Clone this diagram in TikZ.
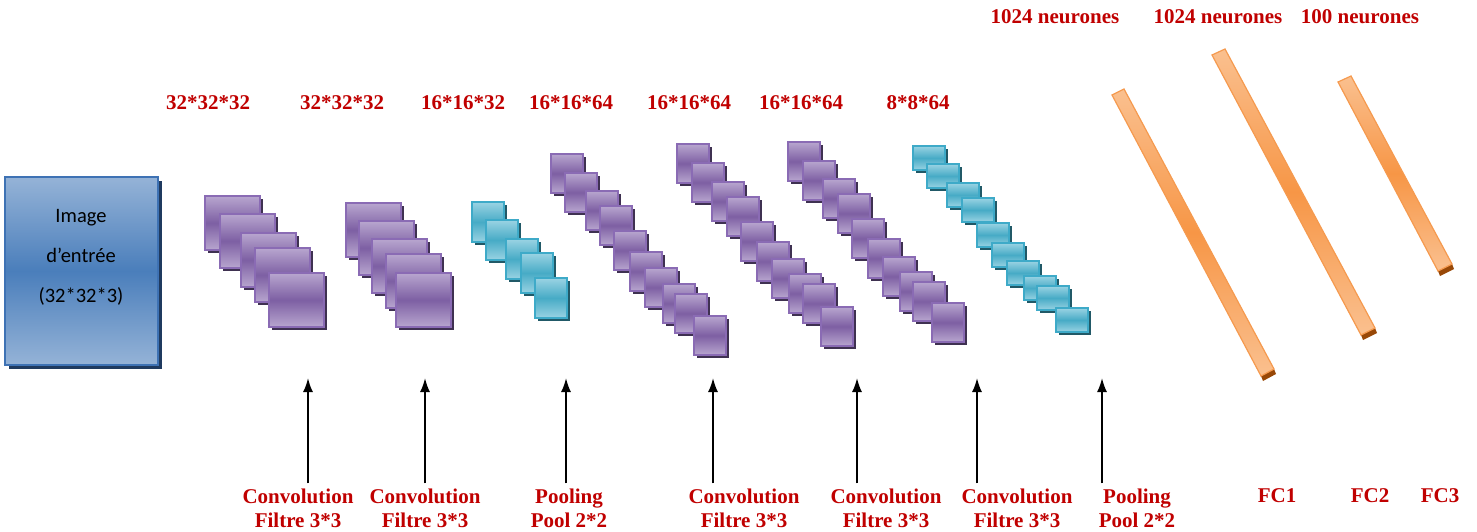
\documentclass[tikz,border=0pt]{standalone}
\usepackage{fontspec}
\setmainfont{Liberation Serif}
\newfontfamily\calibri{Carlito}
\usepackage{tikz}
\usetikzlibrary{arrows,arrows.meta,positioning}

\definecolor{lblred}{HTML}{C00000}
\definecolor{imglight}{HTML}{95B3D7}
\definecolor{imgdark}{HTML}{4A7EBB}
\definecolor{imgedge}{HTML}{3E72B4}
\definecolor{imgshade}{HTML}{1F3A5F}
\definecolor{purplight}{HTML}{B8A6CF}
\definecolor{purpdark}{HTML}{7D5FA3}
\definecolor{purpedge}{HTML}{8A6BB4}
\definecolor{purpshade}{HTML}{3F3151}
\definecolor{cyanlight}{HTML}{9AD3E3}
\definecolor{cyandark}{HTML}{47ABC6}
\definecolor{cyanedge}{HTML}{3EAAC8}
\definecolor{cyanshade}{HTML}{215967}
\definecolor{orglight}{HTML}{FAC08F}
\definecolor{orgdark}{HTML}{F79646}
\definecolor{orgedge}{HTML}{F59A4F}
\definecolor{orgshade}{HTML}{984807}

\begin{document}
\begin{tikzpicture}[x=1pt,y=-1pt,
  lbl/.style={text=lblred,font=\fontsize{21}{24}\selectfont\bfseries,align=center,inner sep=1pt},
  convsq/.style={draw=purpedge,line width=1.5pt,top color=purplight,bottom color=purplight,middle color=purpdark},
  poolsq/.style={draw=cyanedge,line width=1.5pt,top color=cyanlight,bottom color=cyanlight,middle color=cyandark},
  fcbar/.style={draw=orgedge,line width=1.2pt,top color=orglight,bottom color=orglight,middle color=orgdark},
  arr/.style={-{Latex[length=14pt,width=10pt]},line width=1.8pt,shorten <=4pt}]
\useasboundingbox (0,0) rectangle (1477,532);

% input image
\fill[imgshade] (9,181) rectangle (162,369);
\draw[draw=imgedge,line width=1.5pt,top color=imglight,bottom color=imglight,middle color=imgdark] (5,177) rectangle (158,365);
\node[font=\calibri\fontsize{20.5}{40}\selectfont,align=center] (img) at (81,257) {Image\\d’entrée\\(32*32*3)};

% conv 1 and conv 2 (big squares)
\foreach \x/\y in {205/196,220/214,241/233,255/248,269/273}{
  \fill[purpshade] (\x+3,\y+3) rectangle ++(55,54);
  \draw[convsq] (\x,\y) rectangle ++(55,54);}
\foreach \x/\y in {346/203,359/221,372/239,386/254,396/273}{
  \fill[purpshade] (\x+3,\y+3) rectangle ++(55,54);
  \draw[convsq] (\x,\y) rectangle ++(55,54);}

% pool 1
\foreach \x/\y in {472/202,486/220,506/239,521/253,535/278}{
  \fill[cyanshade] (\x+3,\y+3) rectangle ++(32,40);
  \draw[poolsq] (\x,\y) rectangle ++(32,40);}

% conv 3, conv 4, conv 5
\foreach \x/\y in {551/154,565/173,586/191,600/206,614/231,630/252,645/268,663/284,675/294,694/316}{
  \fill[purpshade] (\x+3,\y+3) rectangle ++(32,39);
  \draw[convsq] (\x,\y) rectangle ++(32,39);}
\foreach \x/\y in {677/144,692/163,712/182,727/197,741/222,757/242,772/259,789/274,803/284,821/307}{
  \fill[purpshade] (\x+3,\y+3) rectangle ++(32,39);
  \draw[convsq] (\x,\y) rectangle ++(32,39);}
\foreach \x/\y in {788/142,803/161,823/179,838/194,852/219,868/239,883/257,900/272,913/282,932/303}{
  \fill[purpshade] (\x+3,\y+3) rectangle ++(32,39);
  \draw[convsq] (\x,\y) rectangle ++(32,39);}

% pool 2
\foreach \x/\y in {913/146,927/164,947/183,962/198,977/223,992/243,1007/261,1024/276,1037/286,1056/308}{
  \fill[cyanshade] (\x+3,\y+3) rectangle ++(32,24);
  \draw[poolsq] (\x,\y) rectangle ++(32,24);}

% fully connected
\fill[orgshade] (1261,376) -- (1274,369) -- (1276,374) -- (1263,381) -- cycle;
\draw[fcbar] (1112,95) -- (1124,89) -- (1274,369) -- (1261,376) -- cycle;
\fill[orgshade] (1361,335) -- (1375,328) -- (1377,333) -- (1363,340) -- cycle;
\draw[fcbar] (1212,55) -- (1225,49) -- (1375,328) -- (1361,335) -- cycle;
\fill[orgshade] (1438,271) -- (1452,264) -- (1454,269) -- (1440,276) -- cycle;
\draw[fcbar] (1338,82) -- (1351,76) -- (1452,264) -- (1438,271) -- cycle;

% sizes on top
\node[lbl] (s1) at (208,103) {32*32*32};
\node[lbl] (s2) at (342,103) {32*32*32};
\node[lbl] (s3) at (463,103) {16*16*32};
\node[lbl] (s4) at (571,103) {16*16*64};
\node[lbl] (s5) at (689,103) {16*16*64};
\node[lbl] (s6) at (801,103) {16*16*64};
\node[lbl] (s7) at (918,103) {8*8*64};
\node[lbl] (n1) at (1055,17) {1024 neurones};
\node[lbl] (n2) at (1218,17) {1024 neurones};
\node[lbl] (n3) at (1360,17) {100 neurones};

% layer names
\node[lbl] (l1) at (298,508) {Convolution\\Filtre 3*3};
\node[lbl] (l2) at (425,508) {Convolution\\Filtre 3*3};
\node[lbl] (l3) at (569,508) {Pooling\\Pool 2*2};
\node[lbl] (l4) at (744,508) {Convolution\\Filtre 3*3};
\node[lbl] (l5) at (886,508) {Convolution\\Filtre 3*3};
\node[lbl] (l6) at (1017,508) {Convolution\\Filtre 3*3};
\node[lbl] (l7) at (1137,508) {Pooling\\Pool 2*2};
\node[lbl] (f1) at (1277,496) {FC1};
\node[lbl] (f2) at (1370,496) {FC2};
\node[lbl] (f3) at (1440,496) {FC3};

% arrows
\foreach \i/\x in {1/308,2/425,3/566,4/713,5/857,6/977,7/1102}{
  \coordinate (a\i) at (\x,378);
  \draw[arr] (l\i.north -| a\i) -- (a\i);}
\end{tikzpicture}
\end{document}
